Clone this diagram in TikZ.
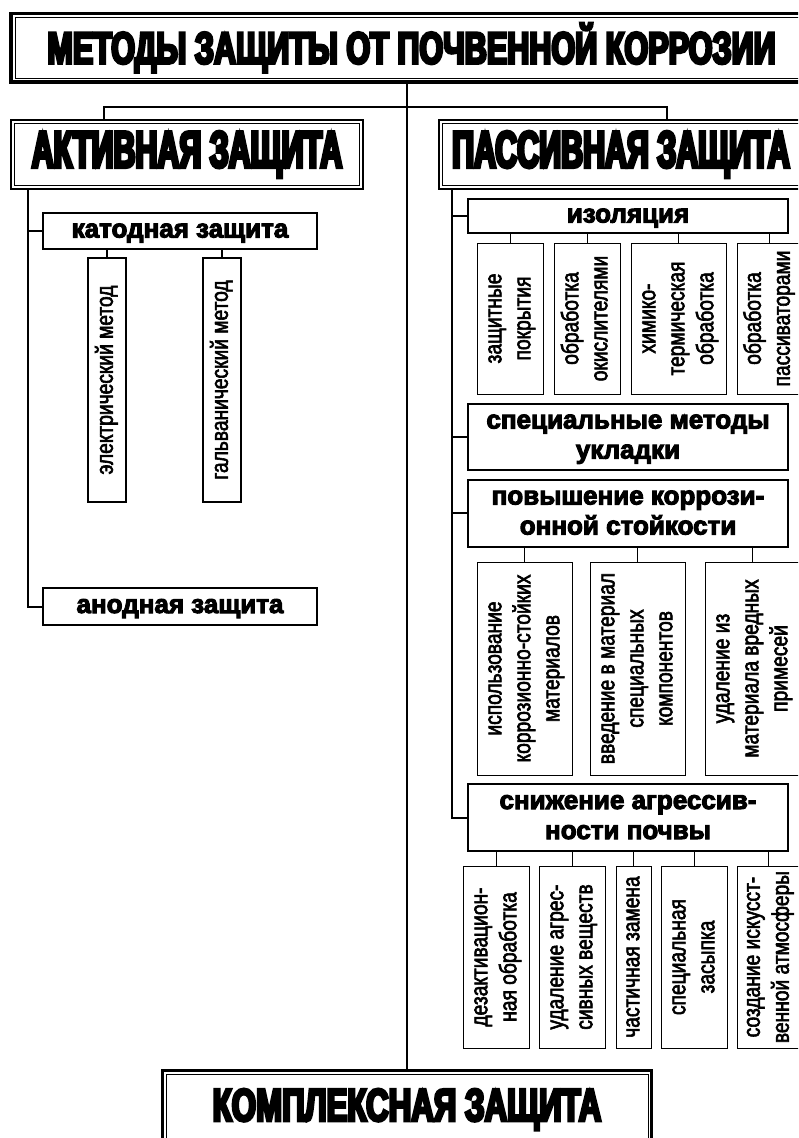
\documentclass[tikz,border=0pt]{standalone}
\usepackage{fontspec}
\usepackage{graphicx}
\usetikzlibrary{positioning}
\newfontfamily\headfont[FakeStretch=0.585,FakeBold=6]{Liberation Sans}
\newfontfamily\titlefont[FakeStretch=0.68,FakeBold=6]{Liberation Sans}
\newfontfamily\labfont[FakeBold=4]{Liberation Sans}
\newfontfamily\narrowfont[FakeStretch=0.8,FakeBold=2.5]{Liberation Sans}
\newcommand{\vlab}[1]{\rotatebox{90}{\begin{tabular}{@{}c@{}}#1\end{tabular}}}

\begin{document}
\begin{tikzpicture}[x=1pt, y=-1pt,
    head/.style={draw, line width=2pt, inner sep=0pt,
                 font=\headfont\bfseries\fontsize{52}{60}\selectfont,
                 path picture={\draw[line width=1pt]
                   ([shift={(#1,-#1)}]path picture bounding box.north west) rectangle
                   ([shift={(-#1,#1)}]path picture bounding box.south east);}},
    head/.default=3.5pt,
    bighead/.style={head=4pt, line width=3.5pt,
                    font=\titlefont\bfseries\fontsize{45}{50}\selectfont},
    cat/.style={draw, line width=2pt, inner sep=0pt, align=center,
                text height=13pt, text depth=0pt,
                font=\labfont\bfseries\fontsize{26}{30}\selectfont},
    cat2/.style={cat, text height=43pt},
    leaf/.style={draw, line width=1pt, inner sep=0pt,
                 font=\narrowfont\fontsize{24}{29}\selectfont},
    trunk/.style={line width=2.5pt},
    limb/.style={line width=2pt},
    twig/.style={line width=1pt}
  ]
  \path[use as bounding box, fill=white] (0,0) rectangle (798,1138);
  \clip (0,0) rectangle (798,1138);

  \node[bighead, minimum width=801pt, minimum height=68.5pt] (meth) at (411.5,47.75) {МЕТОДЫ ЗАЩИТЫ ОТ ПОЧВЕННОЙ КОРРОЗИИ};
  \node[head, minimum width=352.5pt, minimum height=69pt] (act) at (187,154.5) {АКТИВНАЯ ЗАЩИТА};
  \node[head, minimum width=365pt, minimum height=69pt] (pas) at (621,154.5) {ПАССИВНАЯ ЗАЩИТА};
  \node[head, line width=2.5pt, font=\titlefont\bfseries\fontsize{46}{50}\selectfont, minimum width=489pt, minimum height=78pt] (compl) at (407,1109.5) {КОМПЛЕКСНАЯ ЗАЩИТА};

  \node[cat, minimum width=274pt, minimum height=36pt] (kat) at (180,231) {катодная защита};
  \node[leaf, line width=2pt, minimum width=38pt, minimum height=244pt] (el) at (107,380) {\vlab{электрический метод}};
  \node[leaf, line width=2pt, minimum width=38pt, minimum height=244pt] (gal) at (222,380) {\vlab{гальванический метод}};
  \node[cat, minimum width=274pt, minimum height=37pt] (anod) at (180,606.5) {анодная защита};

  \node[cat, minimum width=320pt, minimum height=34pt] (izol) at (628,216) {изоляция};
  \node[leaf, minimum width=66pt, minimum height=151pt] (iz1) at (510,318.5) {\vlab{защитные\\покрытия}};
  \node[leaf, minimum width=66pt, minimum height=151pt, right=10pt of iz1] (iz2) {\vlab{обработка\\окислителями}};
  \node[leaf, minimum width=95pt, minimum height=151pt, right=10pt of iz2] (iz3) {\vlab{химико-\\термическая\\обработка}};
  \node[leaf, minimum width=65pt, minimum height=151pt, right=10pt of iz3] (iz4) {\vlab{обработка\\пассиваторами}};

  \node[cat2, minimum width=320pt, minimum height=66pt] (spec) at (628,437) {специальные методы\\укладки};
  \node[cat2, minimum width=320pt, minimum height=67pt] (povy) at (628,513) {повышение коррози-\\онной стойкости};
  \node[leaf, minimum width=95pt, minimum height=213pt] (p1) at (524.5,668.5) {\vlab{использование\\коррозионно-стойких\\материалов}};
  \node[leaf, minimum width=95pt, minimum height=213pt, right=17pt of p1] (p2) {\vlab{введение в материал\\специальных\\компонентов}};
  \node[leaf, minimum width=95pt, minimum height=213pt, right=19pt of p2] (p3) {\vlab{удаление из\\материала вредных\\примесей}};

  \node[cat2, minimum width=320pt, minimum height=67pt] (sniz) at (628,817.5) {снижение агрессив-\\ности почвы};
  \node[leaf, minimum width=66pt, minimum height=182pt] (s1) at (496,957) {\vlab{дезактивацион-\\ная обработка}};
  \node[leaf, minimum width=66pt, minimum height=182pt, right=9pt of s1] (s2) {\vlab{удаление агрес-\\сивных веществ}};
  \node[leaf, minimum width=35pt, minimum height=182pt, right=10pt of s2] (s3) {\vlab{частичная замена}};
  \node[leaf, minimum width=66pt, minimum height=182pt, right=9pt of s3] (s4) {\vlab{специальная\\засыпка}};
  \node[leaf, minimum width=63pt, minimum height=182pt, right=9pt of s4] (s5) {\vlab{создание искусст-\\венной атмосферы}};

  \coordinate (tl) at (104,107);
  \coordinate (tr) at (667,107);
  \coordinate (lb) at (28,0);
  \coordinate (rb) at (452,0);

  \draw[trunk] (compl.north |- meth.south) -- (compl.north);
  \draw[trunk] (act.north -| tl) -- (tl) -- (tr) -- (pas.north -| tr);

  \draw[limb] (act.south -| lb) |- (anod.west);
  \draw[limb] (kat.west) -- (kat.west -| lb);
  \draw[limb, line width=1.5pt] (el.north) -- (el.north |- kat.south);
  \draw[limb, line width=1.5pt] (gal.north) -- (gal.north |- kat.south);

  \draw[limb] (pas.south -| rb) |- (sniz.west);
  \draw[limb] (izol.west) -- (izol.west -| rb);
  \draw[limb] (spec.west) -- (spec.west -| rb);
  \draw[limb] (povy.west) -- (povy.west -| rb);

  \draw[twig] (iz1.north) -- (iz1.north |- izol.south);
  \draw[twig] (iz2.north) -- (iz2.north |- izol.south);
  \draw[twig] (iz3.north) -- (iz3.north |- izol.south);
  \draw[twig] (iz4.north) -- (iz4.north |- izol.south);
  \draw[twig] (p1.north) -- (p1.north |- povy.south);
  \draw[twig] (p2.north) -- (p2.north |- povy.south);
  \draw[twig] (p3.north) -- (p3.north |- povy.south);
  \draw[twig] (s1.north) -- (s1.north |- sniz.south);
  \draw[twig] (s2.north) -- (s2.north |- sniz.south);
  \draw[twig] (s3.north) -- (s3.north |- sniz.south);
  \draw[twig] (s4.north) -- (s4.north |- sniz.south);
  \draw[twig] (s5.north) -- (s5.north |- sniz.south);
\end{tikzpicture}
\end{document}
